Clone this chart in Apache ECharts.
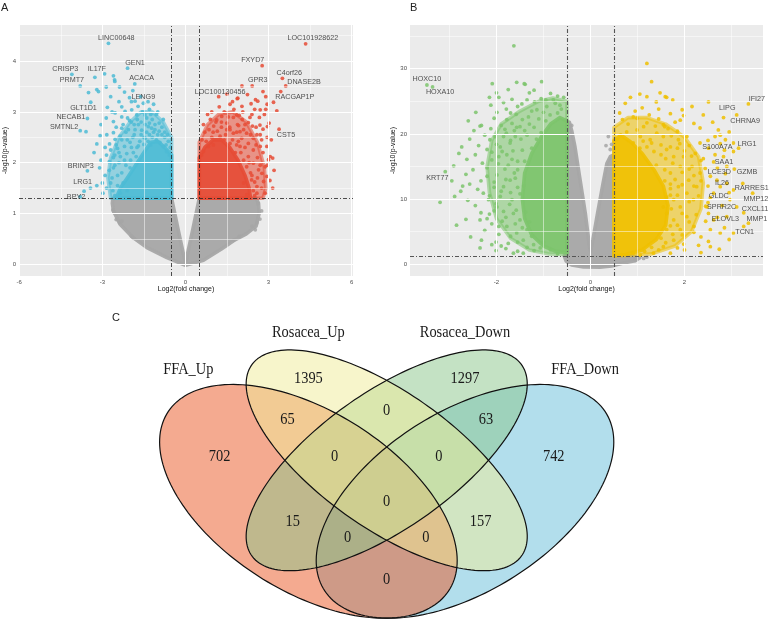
<!DOCTYPE html>
<html><head><meta charset="utf-8">
<script src="https://cdn.jsdelivr.net/npm/echarts@6/dist/echarts.min.js"></script>
<style>html,body{margin:0;padding:0;background:#fff}#c{width:771px;height:619px}</style>
</head><body><div id="c"></div>
<script>
// ---------- Panel A (volcano, FFA) ----------
var aXTicks = [-6, -3, 0, 3, 6];
var aXMinor = [-4.5, -1.5, 1.5, 4.5];
var aYTicks = [0, 1, 2, 3, 4];
var aYMinor = [0.5, 1.5, 2.5, 3.5, 4.5];
var aGrayCloud = [[-2.62,1.3],[-0.5,1.3],[-0.25,0.65],[0,0.02],[0.25,0.65],[0.5,1.3],[2.55,1.3],[2.64,1.2],[2.66,1.0],[2.55,0.75],[2.2,0.6],[1.75,0.47],[1.3,0.3],[0.65,0.08],[0,-0.02],[-0.67,0.13],[-1.39,0.33],[-1.88,0.52],[-2.36,0.79],[-2.6,1.05],[-2.64,1.2]];
var aBlueHalo = [[-0.5,1.3],[-0.5,2.5],[-0.8,2.8],[-1.2,3.0],[-1.6,3.0],[-2.0,2.8],[-2.4,2.5],[-2.7,2.1],[-2.8,1.7],[-2.7,1.3]];
var aBlueCore = [[-0.5,1.3],[-0.5,2.15],[-0.75,2.3],[-1.0,2.42],[-1.25,2.4],[-1.5,2.2],[-1.8,1.95],[-2.1,1.7],[-2.35,1.5],[-2.5,1.3]];
var aRedHalo = [[0.5,1.3],[0.5,2.4],[0.8,2.75],[1.2,2.95],[1.7,3.0],[2.2,2.8],[2.6,2.4],[2.85,1.9],[2.9,1.5],[2.8,1.3]];
var aRedCore = [[0.5,1.3],[0.5,2.1],[0.7,2.3],[1.0,2.45],[1.3,2.45],[1.6,2.3],[1.9,2.05],[2.15,1.75],[2.3,1.5],[2.35,1.3]];
var aGray = [[-2.62,1.07],[-2.58,1.02],[-2.50,0.88],[-2.38,0.82],[-2.30,0.85],[-1.95,0.55],[-1.88,0.52],[2.69,0.89],[2.75,1.05],[2.62,1.20],[2.52,0.68],[2.40,0.75],[1.95,0.55],[1.75,0.48],[2.58,0.82]];
var aBlue = [
[-2.78,4.35],[-2.09,3.86],[-4.10,3.74],[-3.27,3.68],[-2.92,3.75],[-2.60,3.71],[-2.56,3.63],[-2.55,3.60],
[-3.80,3.51],[-2.86,3.49],[-2.38,3.49],[-1.83,3.55],[-3.50,3.38],[-3.20,3.44],[-3.14,3.40],[-2.20,3.39],
[-1.90,3.42],[-2.02,3.28],[-1.82,3.21],[-1.52,3.17],[-1.71,3.11],[-3.42,3.19],[-2.82,3.09],[-2.54,2.98],
[-2.18,3.01],[-1.94,3.04],[-1.76,2.94],[-3.54,2.87],[-2.86,2.88],[-2.60,2.81],[-2.09,2.88],[-2.02,2.83],
[-1.74,2.85],[-1.46,2.94],[-1.40,2.88],[-3.80,2.63],[-3.59,2.61],[-3.08,2.53],[-2.84,2.55],[-2.60,2.59],
[-2.30,2.68],[-2.06,2.65],[-1.82,2.65],[-1.58,2.64],[-1.34,2.71],[-1.22,2.68],[-3.20,2.37],[-2.74,2.37],
[-2.54,2.46],[-2.36,2.52],[-2.10,2.45],[-1.90,2.50],[-1.65,2.42],[-1.45,2.48],[-1.30,2.55],[-1.15,2.60],
[-2.70,2.25],[-2.45,2.28],[-2.20,2.32],[-1.95,2.30],[-1.70,2.33],[-1.50,2.36],[-1.35,2.42],[-1.25,2.35],
[-2.85,2.15],[-2.55,2.15],[-2.35,2.12],[-2.12,2.18],[-1.88,2.20],[-3.54,1.84],[-3.43,1.50],[-3.66,1.44],
[-3.80,1.33],[-3.00,1.60],[-2.75,1.85],[-2.65,1.70],[-2.55,1.95],[-2.75,2.02],[-2.62,1.45],[-2.45,1.55],
[-2.98,1.40],[-2.55,1.35],[-3.05,2.05],[-2.40,2.00],[-2.30,1.80],[-2.15,1.95],[-1.98,2.05],[-1.78,2.12],
[-1.05,2.45],[-0.92,2.40],[-0.80,2.32],[-0.68,2.22],[-0.58,2.15],[-1.10,2.75],[-0.95,2.62],[-0.75,2.50],
[-1.20,2.85],[-1.05,2.95],[-1.60,2.80],[-1.55,3.00],[-1.30,3.05],[-1.62,3.30],[-2.40,3.20],[-2.70,3.30],
[-2.30,2.90],[-1.15,3.15],[-0.85,2.70],[-0.62,2.42],[-1.85,2.75],[-2.45,1.75],[-2.25,1.60],[-2.10,1.45],
[-2.90,1.75],[-2.85,1.50],[-2.70,1.60],[-2.60,2.10],[-2.50,2.35],[-2.30,2.45],[-2.00,2.40],[-1.85,2.55],
[-1.60,2.55],[-1.40,2.60],[-1.20,2.50],[-1.00,2.55],[-0.85,2.55],[-0.70,2.35],[-0.55,2.30],[-2.40,2.20],
[-2.20,2.05],[-2.00,1.90],[-2.35,1.40],[-2.60,1.90],[-1.75,2.30],[-1.50,2.50],[-2.15,2.60],[-1.30,2.78],
[-1.10,2.65],[-0.95,2.78],[-0.75,2.60],[-1.70,2.75],[-1.95,2.80],[-2.25,2.75],[-2.50,2.70],[-1.45,2.75],
[-0.65,2.55],[-0.80,2.85],[-1.00,3.00],[-1.25,2.95],[-1.35,3.20],[-1.95,3.20],[-2.30,3.10],[-2.65,3.00],
[-3.30,2.20],[-3.10,1.90],[-3.20,1.55],[-2.90,2.30],[-3.05,2.75]];
var aRed = [
[4.34,4.34],[2.77,3.91],[3.50,3.66],[3.62,3.51],[2.41,3.51],[2.04,3.51],[1.89,3.27],[1.87,3.26],
[2.24,3.34],[2.80,3.40],[3.44,3.40],[3.18,3.19],[2.95,3.15],[3.30,3.02],[2.53,3.24],[2.61,3.21],
[1.61,3.15],[2.04,3.11],[2.37,3.16],[2.70,3.04],[2.90,3.05],[1.85,2.94],[1.94,2.93],[1.73,2.89],
[2.07,3.00],[2.33,2.89],[2.67,2.89],[3.02,2.78],[2.96,2.71],[1.88,2.75],[1.92,2.73],[1.61,2.65],
[2.27,2.79],[2.42,2.72],[2.69,2.74],[1.97,2.61],[2.21,2.58],[2.58,2.55],[2.80,2.66],[3.38,2.66],
[2.94,2.32],[3.06,2.12],[3.15,2.09],[3.00,2.06],[2.88,1.92],[2.76,1.79],[2.94,1.73],[3.15,1.50],
[2.82,1.63],[2.58,1.53],[2.64,1.86],[2.45,2.25],[2.70,2.32],[2.27,2.38],[2.03,2.48],[2.45,2.48],
[1.73,2.58],[1.49,2.65],[1.25,2.52],[1.01,2.35],[1.61,2.38],[1.97,2.32],[2.27,2.12],[2.45,1.99],
[2.21,1.92],[2.39,1.66],[2.58,1.40],[2.21,1.37],[2.88,1.40],[1.13,2.84],[1.31,2.91],[1.49,2.78],
[1.91,2.42],[0.65,2.22],[0.83,2.32],[0.58,2.15],[0.75,2.42],[0.95,2.50],[1.15,2.62],[1.40,2.45],
[1.80,2.20],[2.10,2.05],[2.35,1.80],[2.50,1.62],[2.10,1.60],[2.60,2.10],[2.75,2.45],[2.55,2.70],
[1.75,3.05],[1.40,3.00],[1.02,2.72],[0.90,2.85],[1.22,3.10],[2.15,2.75],[2.85,2.95],
[0.60,2.45],[0.70,2.60],[0.85,2.65],[1.00,2.60],[1.10,2.80],[1.30,2.70],[1.45,2.55],[1.60,2.70],
[1.70,2.45],[1.85,2.35],[2.00,2.20],[2.15,2.30],[2.30,2.00],[2.40,1.75],[2.45,1.45],[2.60,1.70],
[2.70,1.95],[2.55,2.35],[2.35,2.55],[2.10,2.65],[1.85,2.60],[1.55,2.90],[1.30,2.80],[0.95,3.00],
[0.80,2.95],[0.65,2.75],[2.05,2.85],[2.40,2.95],[2.70,2.55],[2.80,2.20],[2.95,1.95],[3.05,1.65],
[2.75,1.50],[2.50,1.35],[2.95,2.50],[1.70,3.20],[1.50,3.35],[1.20,3.30],[2.50,3.05],[2.90,3.30],
[3.10,2.45],[3.20,1.85]];
var aLabels = [
['LINC00648',-2.50,4.46],['GEN1',-1.82,3.97],['CRISP3',-4.34,3.84],['IL17F',-3.20,3.85],['PRMT7',-4.10,3.63],
['ACACA',-1.58,3.66],['LENG9',-1.52,3.30],['GLT1D1',-3.68,3.07],['NECAB1',-4.14,2.89],['SMTNL2',-4.38,2.71],
['BRINP3',-3.78,1.94],['LRG1',-3.71,1.61],['BPY2',-3.95,1.32],
['LOC101928622',4.60,4.45],['FXYD7',2.43,4.02],['C4orf26',3.75,3.76],['DNASE2B',4.28,3.58],['GPR3',2.61,3.63],
['LOC100130456',1.25,3.40],['RACGAP1P',3.95,3.29],['CST5',3.63,2.54]];
var aThresholdX = [-0.5, 0.5];
var aThresholdY = [1.3];

// ---------- Panel B (volcano, rosacea) ----------
var bXTicks = [-2, 0, 2];
var bXMinor = [-3, -1, 1, 3];
var bYTicks = [0, 10, 20, 30];
var bYMinor = [5, 15, 25, 35];
var bGrayCloud = [[-0.5,1.3],[-0.5,21.3],[-0.45,21.8],[-0.4,20.5],[-0.33,18],[-0.22,12.9],[-0.11,7.8],[-0.02,2.7],[0,2.0],[0.05,3.7],[0.15,7.8],[0.28,12.9],[0.35,15.5],[0.42,16.5],[0.5,16.8],[0.5,1.3],[0.85,1.3],[1.05,1.0],[0.95,0.55],[0.7,0.2],[0.45,-0.25],[0.2,-0.45],[-0.15,-0.4],[-0.4,-0.1],[-0.52,0.5],[-0.56,1.3]];
var bGreenHalo = [[-0.5,1.5],[-0.5,25],[-0.8,25.5],[-1.1,25],[-1.5,23.5],[-1.9,21.5],[-2.1,19],[-2.2,15],[-2.15,11],[-2.0,7],[-1.7,4],[-1.3,2.2],[-0.9,1.6]];
var bGreenCore = [[-0.5,1.8],[-0.5,22],[-0.65,22.5],[-0.85,21.5],[-1.05,19.5],[-1.25,17],[-1.4,14],[-1.45,10],[-1.4,7],[-1.25,4.5],[-1.0,2.8],[-0.75,2.0]];
var bYellowHalo = [[0.5,1.3],[0.5,21],[0.8,22.5],[1.2,22.5],[1.6,21.5],[2.0,19.5],[2.3,16.5],[2.4,12.5],[2.35,8.5],[2.15,5],[1.8,2.8],[1.3,1.6],[0.8,1.35]];
var bYellowCore = [[0.5,1.3],[0.5,19],[0.65,19.8],[0.85,18.8],[1.1,17],[1.35,14.5],[1.55,12],[1.65,9],[1.6,6],[1.4,3.8],[1.1,2.2],[0.75,1.5]];
var bGray = [[0.38,19.6],[0.33,18.2],[0.45,18.4],[0.42,17.6],[-0.4,21.3],[1.13,0.9],[0.95,0.6],[1.2,1.1]];
var bGreen = [
[-3.48,27.5],[-3.36,27.2],[-3.09,14.2],[-1.63,33.5],[-1.41,27.7],[-1.39,27.6],[-1.57,27.9],[-1.04,28.0],
[-2.09,27.7],[-2.15,25.6],[-1.95,25.6],[-1.67,25.3],[-1.30,26.3],[-0.57,25.6],[-2.44,23.3],[-2.12,24.4],
[-1.99,23.3],[-1.79,23.8],[-1.58,23.0],[-1.46,24.6],[-1.19,24.9],[-1.05,25.4],[-0.95,25.2],[-2.35,21.2],
[-2.32,21.3],[-2.12,20.8],[-2.05,22.4],[-1.78,22.2],[-1.67,21.6],[-1.57,21.0],[-1.82,20.7],[-2.74,18.0],
[-2.57,19.2],[-2.63,16.1],[-2.65,13.8],[-2.57,12.3],[-2.72,12.0],[-2.76,11.2],[-2.89,10.4],[-2.61,9.8],
[-2.33,12.8],[-2.91,15.1],[-2.33,7.9],[-2.65,6.9],[-2.32,3.7],[-2.01,2.1],[-2.01,3.4],[-2.15,7.7],
[-2.01,9.3],[-1.96,15.4],[-1.64,1.7],[-1.79,20.1],[-1.60,19.6],[-1.71,18.6],[-1.92,18.0],[-2.03,19.6],
[-2.14,19.1],[-1.78,16.8],[-1.67,16.1],[-1.99,13.7],[-1.85,11.9],[-1.71,12.9],[-1.92,10.4],[-1.67,9.9],
[-1.99,8.8],[-1.64,7.8],[-1.50,6.8],[-1.78,5.8],[-1.57,4.8],[-1.35,5.3],[-1.43,3.7],[-1.21,3.0],
[-1.07,2.5],[-1.43,1.7],[-1.50,21.1],[-1.32,22.6],[-1.14,23.7],[-0.93,24.2],[-0.79,25.2],[-0.65,24.4],
[-0.86,22.9],[-2.35,6.8],[-2.17,9.9],[-2.28,10.9],[-1.55,14.5],[-1.45,17.5],[-1.35,19.8],[-1.20,21.0],
[-1.05,20.2],[-0.95,22.0],[-0.70,23.2],[-1.40,15.8],[-1.42,12.0],[-1.50,10.8],[-1.38,8.0],[-1.30,6.5],
[-1.25,4.3],[-1.00,3.4],[-0.85,2.2],[-0.70,1.6],[-1.60,13.2],[-1.82,14.6],[-2.20,14.8],[-2.45,16.8],
[-2.20,17.6],[-1.88,17.3],[-1.25,17.8],[-1.15,19.2],[-1.75,3.2],[-1.88,6.6],[-1.70,11.0],[-2.05,11.8],
[-2.25,5.2],[-2.10,6.2],[-1.95,4.6],[-1.85,8.1],[-2.05,12.6],[-2.20,13.5],[-1.95,16.5],[-2.10,17.2],
[-2.25,19.8],[-1.90,21.3],[-1.70,23.2],[-1.55,24.2],[-1.35,25.2],[-1.25,23.5],[-1.10,22.3],[-1.62,20.5],
[-1.48,19.2],[-1.65,17.4],[-1.55,15.8],[-1.75,15.2],[-1.62,14.0],[-1.80,13.0],[-1.55,11.8],[-1.72,9.2],
[-1.58,8.3],[-1.80,7.2],[-1.60,6.2],[-1.45,5.6],[-1.70,4.3],[-1.55,3.4],[-1.35,2.6],[-1.20,2.1],
[-1.90,2.8],[-2.45,9.0],[-2.40,11.5],[-2.50,14.5],[-2.38,18.2],[-2.48,20.5],[-2.60,22.0],[-2.80,17.0],
[-2.95,12.8],[-3.20,9.5],[-2.55,4.2],[-2.85,6.0],[-1.85,24.8],[-2.00,26.3],[-1.75,26.8],[-1.20,26.7],
[-0.85,26.2],[-0.70,25.8],[-0.62,23.8],[-0.75,24.7],[-1.00,23.3],[-1.30,21.5],[-1.45,22.2],[-1.40,20.5],
[-1.70,19.0],[-1.85,19.6],[-2.00,18.4],[-2.10,16.0],[-2.30,15.5],[-1.90,11.2],[-2.15,10.5],[-2.05,8.2],
[-2.20,7.0],[-1.95,5.8],[-2.10,3.0],[-1.80,2.4],[-1.55,2.0],[-2.35,2.5]];
var bYellow = [
[1.20,30.8],[1.30,28.0],[1.20,25.7],[1.40,24.9],[1.59,25.7],[1.62,25.6],[0.74,24.7],[0.91,22.6],
[0.99,22.4],[1.13,21.1],[0.99,20.6],[1.55,21.4],[1.58,21.1],[1.91,22.1],[2.16,24.2],[2.51,24.9],
[2.83,22.5],[3.11,22.9],[3.36,24.6],[1.98,22.8],[2.33,20.9],[2.72,20.6],[2.76,19.8],[2.65,19.6],
[2.87,19.1],[3.04,18.6],[3.15,17.8],[2.76,18.5],[2.65,16.8],[2.51,17.8],[2.33,18.6],[2.23,17.0],
[2.05,19.6],[1.87,19.1],[1.70,18.0],[3.04,17.3],[2.90,15.0],[3.06,14.6],[2.87,13.9],[2.90,12.4],
[3.24,12.4],[3.45,10.9],[2.62,10.9],[2.50,9.46],[3.26,7.9],[2.62,6.8],[3.36,6.3],[3.26,5.8],
[2.48,8.8],[2.51,7.8],[2.55,5.3],[2.51,3.5],[2.55,2.7],[2.74,2.3],[1.98,3.1],[2.19,9.9],
[2.26,11.9],[2.09,12.9],[2.33,14.0],[2.69,12.9],[2.76,11.9],[2.97,9.9],[3.04,11.4],[3.11,8.8],
[2.90,7.3],[3.04,4.8],[2.76,4.8],[2.05,7.3],[1.91,5.3],[1.77,3.7],[1.55,2.7],[1.34,1.7],
[1.06,1.4],[0.91,1.7],[1.06,19.6],[1.27,19.1],[1.41,20.1],[1.55,19.6],[0.91,18.6],[1.20,18.0],
[0.77,20.3],[0.63,19.8],[0.56,19.1],[1.77,16.5],[1.91,15.0],[1.70,14.0],[1.87,11.9],[1.77,9.9],
[1.62,7.8],[1.77,6.8],[1.62,5.3],[1.91,8.8],[2.05,10.9],[2.16,15.0],[1.98,16.5],[2.83,16.5],
[2.62,15.7],[2.44,14.7],[1.50,16.8],[1.40,15.2],[1.58,12.8],[1.62,10.3],[1.55,8.8],[1.50,4.0],
[1.30,2.6],[1.15,2.0],[2.20,5.8],[2.35,4.2],[2.00,2.2],[2.35,12.8],[2.55,10.2],[2.40,16.2],
[1.35,17.3],[1.05,17.8],[0.80,21.5],[0.68,22.2],[1.25,22.9],[1.45,22.3],[2.10,18.2],[1.85,20.4],
[1.65,20.8],[1.80,21.8],[1.72,19.7],[1.90,18.5],[2.00,17.4],[2.15,16.6],[1.85,17.8],[1.62,17.6],
[1.75,15.5],[1.95,14.1],[2.20,13.6],[2.10,14.6],[1.80,13.0],[1.95,12.2],[2.20,12.0],[2.30,10.5],
[2.10,9.6],[1.85,10.6],[1.70,11.6],[1.72,8.5],[1.95,7.8],[2.25,7.6],[2.10,6.5],[1.85,6.0],
[1.70,5.9],[1.95,4.5],[2.20,4.9],[1.75,4.6],[1.60,3.3],[1.85,2.5],[1.45,2.2],[2.30,2.9],
[2.45,6.6],[2.45,8.9],[2.50,12.0],[2.55,13.5],[2.70,14.8],[2.35,15.9],[2.50,19.0],[2.20,21.6],
[1.95,23.7],[1.70,23.1],[1.45,23.8],[1.10,24.0],[0.95,23.5],[0.62,23.2],[0.85,25.6],[1.05,26.1],
[1.48,26.3],[1.75,25.2],[2.40,22.9],[2.60,21.8],[2.95,20.3],[2.85,17.5],[2.95,11.0],[2.80,9.0],
[2.70,7.2],[2.85,5.6],[2.95,3.8],[2.35,1.8],[1.70,1.7],[1.20,21.7],[1.38,21.2],[1.50,18.3],
[1.30,18.6],[1.12,18.9],[1.60,16.2],[1.58,14.5],[1.70,12.3],[1.70,10.6]];
var bLabels = [
['HOXC10',-3.48,28.4],['HOXA10',-3.20,26.4],['KRT77',-3.26,13.3],['IFI27',3.54,25.4],['LIPG',2.91,23.9],
['CHRNA9',3.29,21.9],['LRG1',3.33,18.5],['S100A7A',2.70,18.0],['SAA1',2.84,15.7],['GZMB',3.33,14.1],
['LCE3D',2.74,14.1],['IL26',2.80,12.5],['RARRES1',3.43,11.7],['GLDC',2.73,10.4],['MMP12',3.52,10.0],
['SPRR2C',2.79,8.8],['CXCL11',3.50,8.4],['ELOVL3',2.87,7.0],['MMP1',3.54,6.9],['TCN1',3.28,4.9]];
var bThresholdX = [-0.5, 0.5];
var bThresholdY = [1.3];

// ---------- Panel C (Venn) ----------
var vennSets = ['FFA_Up', 'Rosacea_Up', 'Rosacea_Down', 'FFA_Down'];
var vennCx = [0.35, 0.50, 0.50, 0.65];
var vennCy = [0.47, 0.57, 0.57, 0.47];
var vennA = [0.35, 0.35, 0.35, 0.35];
var vennB = [0.20, 0.15, 0.15, 0.20];
var vennRot = [135, 135, 45, 45];
var vennSetLabelX = [0.12, 0.35, 0.65, 0.88];
var vennSetLabelY = [0.79, 0.88, 0.88, 0.79];
var vennCounts = ['1395','0','1297','65','0','0','0','63','702','15','0','0','0','157','742'];
var vennCountX = [0.350,0.500,0.650,0.310,0.400,0.500,0.600,0.690,0.180,0.320,0.425,0.500,0.575,0.680,0.820];
var vennCountY = [0.770,0.690,0.770,0.668,0.579,0.469,0.579,0.668,0.579,0.419,0.380,0.278,0.380,0.419,0.579];
var vennDrawOrder = [3, 0, 2, 1];

// ---------- styling / building ----------
var SANS = 'Liberation Sans, Arial, sans-serif';
var SERIF = 'Liberation Serif, Times New Roman, serif';
var vennFill = ['rgba(233,85,33,0.5)','rgba(239,235,151,0.5)','rgba(137,197,137,0.5)','rgba(101,189,217,0.5)'];

function axisCommon(ticks, extra) {
  var o = {
    type: 'value', scale: true,
    axisLine: {show: false},
    axisTick: {show: true, customValues: ticks, length: 2, lineStyle: {color: '#333', width: 0.8}},
    axisLabel: {show: true, customValues: ticks, fontSize: 6, color: '#4D4D4D', fontFamily: SANS, margin: 3},
    splitLine: {show: false}, minorSplitLine: {show: false}
  };
  for (var k in extra) o[k] = extra[k];
  return o;
}
function gridLines(gi, xMaj, xMin, yMaj, yMin) {
  var d = [];
  xMin.forEach(function(v){ d.push({xAxis: v, lineStyle: {color:'#fff', type:'solid', width:0.5}}); });
  yMin.forEach(function(v){ d.push({yAxis: v, lineStyle: {color:'#fff', type:'solid', width:0.5}}); });
  xMaj.forEach(function(v){ d.push({xAxis: v, lineStyle: {color:'#fff', type:'solid', width:1}}); });
  yMaj.forEach(function(v){ d.push({yAxis: v, lineStyle: {color:'#fff', type:'solid', width:1}}); });
  return {type: 'scatter', xAxisIndex: gi, yAxisIndex: gi, data: [], z: 1, silent: true,
    markLine: {silent: true, symbol: ['none','none'], label: {show: false}, animation: false, data: d}};
}
function thresholds(gi, xs, ys, color, width) {
  var d = [];
  xs.forEach(function(v){ d.push({xAxis: v}); });
  ys.forEach(function(v){ d.push({yAxis: v}); });
  return {type: 'scatter', xAxisIndex: gi, yAxisIndex: gi, data: [], z: 6, silent: true,
    markLine: {silent: true, symbol: ['none','none'], label: {show: false}, animation: false,
      lineStyle: {color: color, width: width, type: [4, 2, 1, 2]}, data: d}};
}
function cloud(gi, pts, color, z, op) {
  return {type: 'custom', xAxisIndex: gi, yAxisIndex: gi, z: z, silent: true, data: [[pts[0][0], pts[0][1]]],
    renderItem: function(params, api) {
      var p = pts.map(function(q){ return api.coord(q); });
      return {type: 'polygon', shape: {points: p},
        style: {fill: color, stroke: color, lineWidth: 3.6, lineJoin: 'round', opacity: op}};
    }};
}
function dots(gi, pts, color, z) {
  return {type: 'scatter', xAxisIndex: gi, yAxisIndex: gi, z: z, silent: true, data: pts,
    symbolSize: 3.8, itemStyle: {color: color, opacity: 0.85}};
}
function labels(gi, arr) {
  return {type: 'scatter', xAxisIndex: gi, yAxisIndex: gi, z: 5, silent: true,
    data: arr.map(function(r){ return [r[1], r[2], r[0]]; }),
    symbolSize: 0.01, itemStyle: {color: 'transparent'},
    label: {show: true, position: 'inside', formatter: function(p){ return p.data[2]; },
      fontSize: 7.2, color: '#262626', fontFamily: SANS}};
}
function ellipsePts(api, cx, cy, a, b, rotDeg) {
  var th = rotDeg * Math.PI / 180, pts = [];
  for (var i = 0; i < 180; i++) {
    var t = i / 180 * 2 * Math.PI, u = a * Math.cos(t), v = b * Math.sin(t);
    pts.push(api.coord([cx + u * Math.cos(th) - v * Math.sin(th), cy + u * Math.sin(th) + v * Math.cos(th)]));
  }
  return pts;
}
var vennData = vennDrawOrder.map(function(i){ return [vennCx[i], vennCy[i], vennA[i], vennB[i], vennRot[i], i]; });

var option = {
  animation: false,
  backgroundColor: '#ffffff',
  title: [
    {text: 'A', left: 1, top: 2, padding: 0, textStyle: {fontSize: 11, fontWeight: 'normal', color: '#222', fontFamily: SANS}},
    {text: 'B', left: 410, top: 2, padding: 0, textStyle: {fontSize: 11, fontWeight: 'normal', color: '#222', fontFamily: SANS}},
    {text: 'C', left: 112, top: 312, padding: 0, textStyle: {fontSize: 11, fontWeight: 'normal', color: '#222', fontFamily: SANS}}
  ],
  grid: [
    {left: 19, top: 25, width: 334, height: 251, show: true, backgroundColor: '#EBEBEB', borderWidth: 0},
    {left: 410, top: 25, width: 353, height: 251, show: true, backgroundColor: '#EBEBEB', borderWidth: 0},
    {left: 125.7, top: 284, width: 522, height: 335, show: false}
  ],
  xAxis: [
    axisCommon(aXTicks, {gridIndex: 0, min: -6.01, max: 6.05, name: 'Log2(fold change)', nameLocation: 'middle', nameGap: 8,
      nameTextStyle: {fontSize: 7, color: '#111', fontFamily: SANS}}),
    axisCommon(bXTicks, {gridIndex: 1, min: -3.84, max: 3.67, name: 'Log2(fold change)', nameLocation: 'middle', nameGap: 8,
      nameTextStyle: {fontSize: 7, color: '#111', fontFamily: SANS}}),
    {gridIndex: 2, type: 'value', min: 0, max: 1, show: false}
  ],
  yAxis: [
    axisCommon(aYTicks, {gridIndex: 0, min: -0.23, max: 4.71, name: '-log10(p-value)', nameLocation: 'middle', nameGap: 10,
      nameTextStyle: {fontSize: 7, color: '#111', fontFamily: SANS}}),
    axisCommon(bYTicks, {gridIndex: 1, min: -1.8, max: 36.7, name: '-log10(p-value)', nameLocation: 'middle', nameGap: 11,
      nameTextStyle: {fontSize: 7, color: '#111', fontFamily: SANS}}),
    {gridIndex: 2, type: 'value', min: 0.183, max: 1, show: false}
  ],
  series: [
    gridLines(0, aXTicks, aXMinor, aYTicks, aYMinor),
    cloud(0, aGrayCloud, '#A6A6A6', 2, 0.95),
    dots(0, aGray, '#A6A6A6', 3),
    cloud(0, aBlueHalo, '#4DBBD5', 2, 0.55),
    cloud(0, aRedHalo, '#E64B35', 2, 0.55),
    cloud(0, aBlueCore, '#4DBBD5', 2, 0.9),
    cloud(0, aRedCore, '#E64B35', 2, 0.9),
    dots(0, aBlue, '#4DBBD5', 3),
    dots(0, aRed, '#E64B35', 3),
    labels(0, aLabels),
    thresholds(0, aThresholdX, aThresholdY, '#222', 0.8),

    gridLines(1, bXTicks, bXMinor, bYTicks, bYMinor),
    cloud(1, bGrayCloud, '#A6A6A6', 2, 0.95),
    dots(1, bGray, '#A6A6A6', 3),
    cloud(1, bGreenHalo, '#7CC46C', 2, 0.55),
    cloud(1, bYellowHalo, '#EFC000', 2, 0.55),
    cloud(1, bGreenCore, '#7CC46C', 2, 0.9),
    cloud(1, bYellowCore, '#EFC000', 2, 0.9),
    dots(1, bGreen, '#7CC46C', 3),
    dots(1, bYellow, '#EFC000', 3),
    labels(1, bLabels),
    thresholds(1, bThresholdX, bThresholdY, '#555', 1.1),

    {type: 'custom', xAxisIndex: 2, yAxisIndex: 2, z: 2, silent: true, data: vennData,
      renderItem: function(params, api) {
        var pts = ellipsePts(api, api.value(0), api.value(1), api.value(2), api.value(3), api.value(4));
        return {type: 'polygon', shape: {points: pts}, style: {fill: vennFill[api.value(5)], stroke: null}};
      }},
    {type: 'custom', xAxisIndex: 2, yAxisIndex: 2, z: 3, silent: true, data: vennData,
      renderItem: function(params, api) {
        var pts = ellipsePts(api, api.value(0), api.value(1), api.value(2), api.value(3), api.value(4));
        return {type: 'polygon', shape: {points: pts}, style: {fill: 'none', stroke: '#111', lineWidth: 1.2}};
      }},
    {type: 'custom', xAxisIndex: 2, yAxisIndex: 2, z: 4, silent: true,
      data: vennCounts.map(function(t, i){ return [vennCountX[i], vennCountY[i]]; }),
      renderItem: function(params, api) {
        var c = api.coord([api.value(0), api.value(1)]);
        return {type: 'text', x: c[0], y: c[1], scaleX: 0.9,
          style: {text: vennCounts[params.dataIndex], fontSize: 16, fontFamily: SERIF, fill: '#1a1a1a', align: 'center', verticalAlign: 'middle'}};
      }},
    {type: 'custom', xAxisIndex: 2, yAxisIndex: 2, z: 4, silent: true,
      data: vennSets.map(function(t, i){ return [vennSetLabelX[i], vennSetLabelY[i]]; }),
      renderItem: function(params, api) {
        var c = api.coord([api.value(0), api.value(1)]);
        return {type: 'text', x: c[0], y: c[1], scaleX: 0.9,
          style: {text: vennSets[params.dataIndex], fontSize: 16, fontFamily: SERIF, fill: '#1a1a1a', align: 'center', verticalAlign: 'middle'}};
      }}
  ]
};
var chart = echarts.init(document.getElementById('c'), null, {renderer: 'canvas'});
chart.setOption(option);
</script></body></html>
